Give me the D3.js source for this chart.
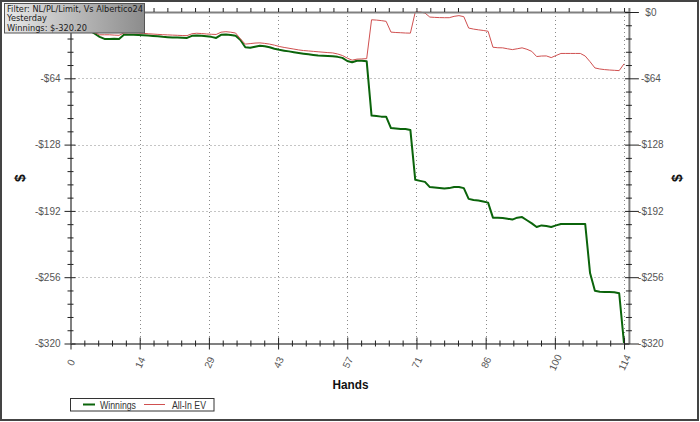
<!DOCTYPE html>
<html>
<head>
<meta charset="utf-8">
<script src="https://cdn.jsdelivr.net/npm/d3@7"></script>
<style>
  html, body { margin: 0; padding: 0; background: #fff; }
  svg { display: block; }
</style>
</head>
<body>
<svg id="chart" width="700" height="422"></svg>
<script>
// ---------- DATA ----------
const seriesNames = ["Winnings", "All-In EV"];
const winnings = [
  0, -6, -11, -15, -18, -21, -24, -26, -26, -25.8,
  -26, -22, -22, -22, -22.3, -22.5, -22.8, -23.2, -23.5, -24,
  -24.3, -24.5, -24.5, -24.8, -25, -23, -22.7, -23, -23.5, -24,
  -25, -22, -21.8, -22.2, -23, -27, -34, -34.5, -33.5, -32.5,
  -33, -34, -35.5, -36.5, -37.3, -38, -38.8, -39.5, -40.2, -40.8,
  -41.4, -42, -42.2, -42.5, -42.7, -43.3, -44.3, -47.3, -48.5, -47,
  -47, -47.6, -100, -100.5, -101, -101, -112, -112.5, -113, -113,
  -114, -162, -163, -164, -169, -169.5, -170, -170.4, -170, -169,
  -169, -170, -180.4, -181.5, -182, -183, -184, -198.5, -198.6, -198.8,
  -199.5, -200.4, -198.5, -198, -201, -204, -207.5, -206, -206.5, -207.5,
  -206, -204.6, -204.6, -204.6, -204.6, -204.6, -204.6, -252, -269, -270,
  -270.2, -270.4, -270.5, -271.5, -320.2
];
const allInEV = [
  0, -5, -10, -14, -17, -20, -22, -22, -22, -22.3,
  -22.5, -20.3, -20, -20, -20.3, -20.6, -21, -21.3, -21.6, -21.9,
  -22.1, -22.3, -22.5, -22.7, -22.8, -21, -20.5, -20.8, -21.2, -21.5,
  -21.7, -19.5, -19, -19.5, -20.3, -26, -31, -30.5, -30, -29.8,
  -30.3, -31, -32, -33.3, -34.2, -35, -35.8, -36.6, -37.2, -37.6,
  -38, -38.4, -38.8, -39.2, -39.5, -40.5, -42, -44.5, -46.5, -45.5,
  -45.3, -45, -7.5, -7.8, -8.3, -9, -19.4, -19.8, -20, -20.3,
  -20.4, 0, 0, -1, -4.9, -5.2, -5.4, -5.5, -5.5, -4.2,
  -3.5, -4.5, -15.5, -16.5, -17.2, -17.8, -18.6, -34, -34.5, -34.6,
  -35.5, -36.3, -35.5, -34.6, -36, -38, -43, -42.5, -42.4, -44,
  -42, -40, -40, -40, -40, -40, -42.5, -48, -54, -55,
  -55.6, -56, -56.3, -56.6, -50
];
const xTickValues = [0, 14.25, 28.5, 42.75, 57, 71.25, 85.5, 99.75, 114];
const xTickLabels = ["0", "14", "29", "43", "57", "71", "86", "100", "114"];
const yTickValues = [0, -64, -128, -192, -256, -320];
const yTickLabels = ["$0", "-$64", "-$128", "-$192", "-$256", "-$320"];
const infoLines = ["Filter: NL/PL/Limit, Vs Albertico24", "Yesterday", "Winnings: $-320.20"];

// ---------- SETUP ----------
const svg = d3.select("#chart");
const x = d3.scaleLinear().domain([0, 115]).range([70.5, 628.9]);
const y = d3.scaleLinear().domain([0, -320]).range([12, 343.5]);
const L = x.range()[0], R = x.range()[1], T = y.range()[0], B = y.range()[1];
const labelFont = "'Liberation Sans', Arial, sans-serif";

svg.append("rect").attr("x", 0).attr("y", 0).attr("width", 700).attr("height", 422).attr("fill", "#fff");

// gridlines
const grid = svg.append("g").attr("stroke", "#8a8a8a").attr("stroke-width", 1).attr("stroke-dasharray", "1,3");
grid.selectAll("line.v").data(xTickValues.slice(1)).join("line")
  .attr("x1", d => Math.round(x(d)) + 0.5).attr("x2", d => Math.round(x(d)) + 0.5)
  .attr("y1", T).attr("y2", B);
grid.selectAll("line.h").data(yTickValues.slice(1, -1)).join("line")
  .attr("x1", L).attr("x2", R)
  .attr("y1", d => Math.round(y(d)) + 0.5).attr("y2", d => Math.round(y(d)) + 0.5);

// lines
const hands = d3.range(winnings.length);
const lineGen = arr => d3.line().x(i => x(i)).y(i => y(arr[i]))(hands);
svg.append("path").attr("d", lineGen(winnings)).attr("fill", "none")
  .attr("stroke", "#0b640b").attr("stroke-width", 2).attr("stroke-linejoin", "round");
svg.append("path").attr("d", lineGen(allInEV)).attr("fill", "none")
  .attr("stroke", "#d05050").attr("stroke-width", 1).attr("stroke-linejoin", "round");

// minor tick values
const xMinor = [];
for (let k = 0; k <= 40; k++) if (k % 5) xMinor.push(114 * k / 40);
const yMinor = [];
for (let k = 0; k <= 25; k++) if (k % 5) yMinor.push(-12.8 * k);

function styleAxis(g) {
  g.select(".domain").attr("stroke", "#808080").attr("stroke-width", 2);
  g.selectAll(".tick line").attr("stroke", "#222").attr("stroke-width", 1);
  g.selectAll(".tick text").attr("fill", "#555").attr("font-family", labelFont).attr("font-size", 10);
}

// bottom axis
const gB = svg.append("g").attr("transform", `translate(0,${B})`);
gB.call(d3.axisBottom(x).tickValues(xTickValues).tickFormat((d, i) => xTickLabels[i]).tickSizeOuter(0));
styleAxis(gB);
gB.selectAll(".tick line").attr("y1", -6).attr("y2", 6);
gB.selectAll(".tick text").attr("y", null).attr("dy", "0.35em")
  .attr("text-anchor", "middle").attr("transform", "translate(0,19) rotate(-65)");
const gBm = svg.append("g").attr("transform", `translate(0,${B})`);
gBm.call(d3.axisBottom(x).tickValues(xMinor).tickFormat("").tickSizeOuter(0));
gBm.select(".domain").remove();
gBm.selectAll(".tick line").attr("stroke", "#222").attr("y1", -3).attr("y2", 3);

// top axis
const gT = svg.append("g").attr("transform", `translate(0,${T})`);
gT.call(d3.axisTop(x).tickValues(xTickValues.concat(xMinor)).tickFormat("").tickSizeOuter(0).tickSize(4));
styleAxis(gT);

// left axis (the $0 label is hidden under the info box in the reference)
const gL = svg.append("g").attr("transform", `translate(${L},0)`);
gL.call(d3.axisLeft(y).tickValues(yTickValues).tickFormat((d, i) => i === 0 ? "" : yTickLabels[i]).tickSizeOuter(0));
styleAxis(gL);
gL.selectAll(".tick line").attr("x1", -6).attr("x2", 5);
gL.selectAll(".tick text").attr("x", -10);
const gLm = svg.append("g").attr("transform", `translate(${L},0)`);
gLm.call(d3.axisLeft(y).tickValues(yMinor).tickFormat("").tickSizeOuter(0));
gLm.select(".domain").remove();
gLm.selectAll(".tick line").attr("stroke", "#222").attr("x1", -3).attr("x2", 3);

// right axis
const gR = svg.append("g").attr("transform", `translate(${R},0)`);
gR.call(d3.axisRight(y).tickValues(yTickValues).tickFormat((d, i) => yTickLabels[i]).tickSizeOuter(0));
styleAxis(gR);
gR.selectAll(".tick line").attr("x1", -4).attr("x2", 10);
gR.selectAll(".tick text").attr("x", 22).attr("text-anchor", "middle");
const gRm = svg.append("g").attr("transform", `translate(${R},0)`);
gRm.call(d3.axisRight(y).tickValues(yMinor).tickFormat("").tickSizeOuter(0));
gRm.select(".domain").remove();
gRm.selectAll(".tick line").attr("stroke", "#222").attr("x1", -3).attr("x2", 3);

// axis titles
svg.append("text").attr("x", 350.5).attr("y", 389).attr("text-anchor", "middle")
  .attr("font-family", labelFont).attr("font-weight", "bold").attr("font-size", 13)
  .attr("fill", "#111").attr("textLength", 36).attr("lengthAdjust", "spacingAndGlyphs").text("Hands");
[20, 677].forEach(cx => {
  svg.append("text").attr("transform", `translate(${cx},178) rotate(-90)`)
    .attr("text-anchor", "middle").attr("dy", "0.35em")
    .attr("font-family", labelFont).attr("font-weight", "bold").attr("font-size", 14)
    .attr("fill", "#111").text("$");
});

// legend
const lg = svg.append("g");
lg.append("rect").attr("x", 70.5).attr("y", 398.5).attr("width", 143.5).attr("height", 12.5)
  .attr("fill", "#fff").attr("stroke", "#333").attr("stroke-width", 1);
const legendItems = [
  { name: seriesNames[0], color: "#0b640b", w: 2, lx1: 83, lx2: 95, tx: 100, tl: 36 },
  { name: seriesNames[1], color: "#d05050", w: 1, lx1: 144, lx2: 165, tx: 172, tl: 34 }
];
legendItems.forEach(it => {
  lg.append("line").attr("x1", it.lx1).attr("x2", it.lx2).attr("y1", 404.5).attr("y2", 404.5)
    .attr("stroke", it.color).attr("stroke-width", it.w);
  lg.append("text").attr("x", it.tx).attr("y", 408.5).attr("font-family", labelFont).attr("font-size", 10)
    .attr("fill", "#333").attr("textLength", it.tl).attr("lengthAdjust", "spacingAndGlyphs").text(it.name);
});

// info box
const defs = svg.append("defs");
const grad = defs.append("linearGradient").attr("id", "infoGrad").attr("x1", "0%").attr("x2", "100%");
grad.append("stop").attr("offset", "0%").attr("stop-color", "#e8e8e8");
grad.append("stop").attr("offset", "100%").attr("stop-color", "#8c8c8c");
svg.append("rect").attr("x", 4.5).attr("y", 3.5).attr("width", 140).attr("height", 29.5)
  .attr("fill", "url(#infoGrad)").attr("stroke", "#555").attr("stroke-width", 1);
const infoLen = [136, 40, 80];
const infoY = [11.5, 21.3, 31];
infoLines.forEach((t, i) => {
  svg.append("text").attr("x", 7).attr("y", infoY[i])
    .attr("font-family", "'DejaVu Sans', Verdana, sans-serif").attr("font-size", 9)
    .attr("fill", "#1a1a1a").attr("textLength", infoLen[i]).attr("lengthAdjust", "spacingAndGlyphs").text(t);
});

// outer border
svg.append("rect").attr("x", 1).attr("y", 1).attr("width", 697).attr("height", 419)
  .attr("fill", "none").attr("stroke", "#444").attr("stroke-width", 2);
</script>
</body>
</html>
